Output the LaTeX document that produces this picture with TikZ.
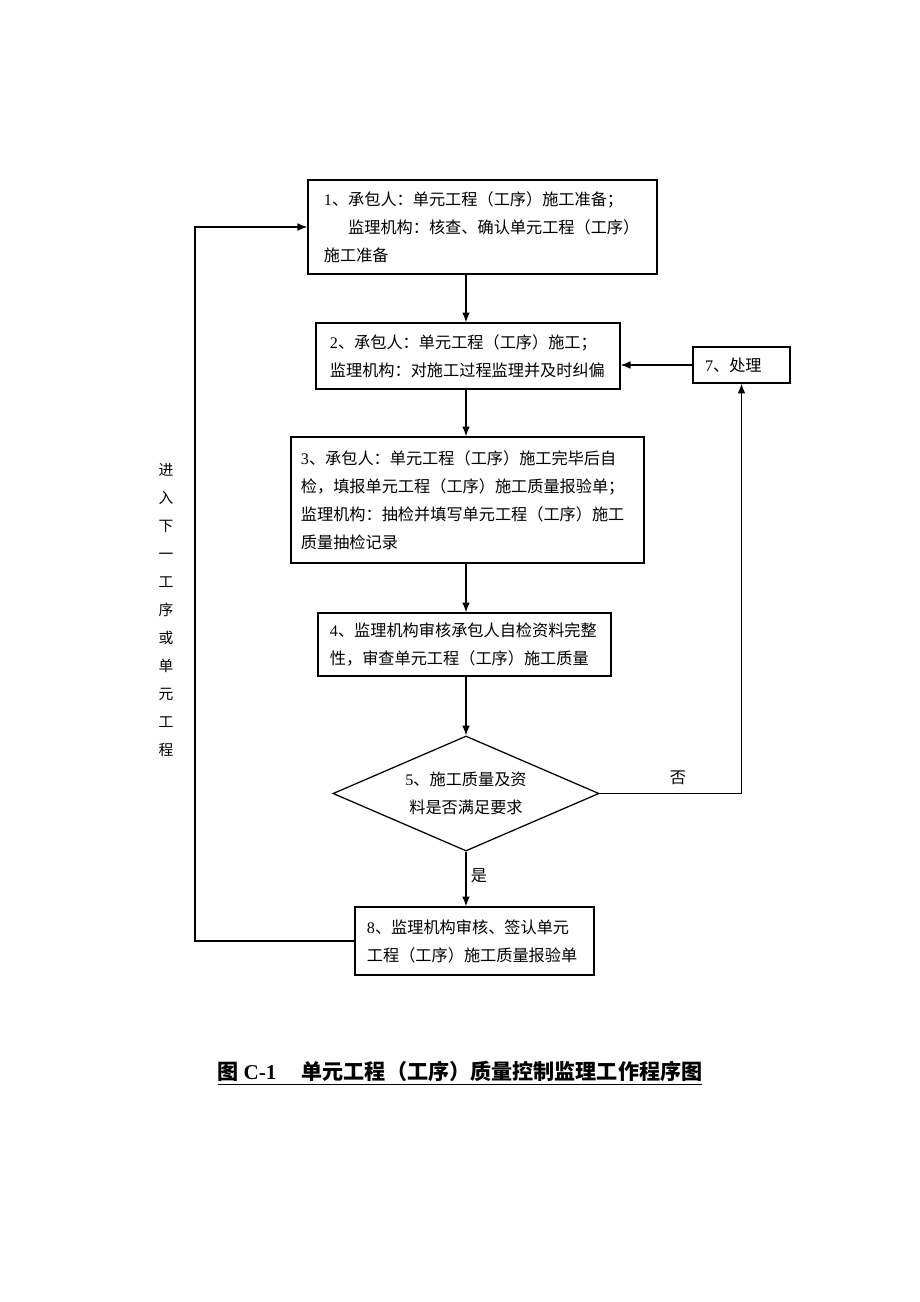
\documentclass[tikz,border=0pt]{standalone}
\usepackage{fontspec}
\setmainfont{Noto Sans CJK SC}
\newfontfamily\latin{Liberation Serif}
\usepackage{tikz}
\usetikzlibrary{shapes.geometric, arrows.meta, positioning}

\begin{document}
\begin{tikzpicture}[x=0.025cm, y=-0.025cm, >={Latex[length=7pt, width=5.5pt]},
        stepbox/.style={draw, line width=0.9pt, rectangle, align=left, inner ysep=0pt,
            font=\fontsize{11.5}{20}\selectfont},
        judge/.style={draw, line width=0.9pt, diamond, aspect=2.31, inner sep=0pt, align=center,
            minimum width=6.65cm, minimum height=2.875cm, font=\fontsize{11.5}{20}\selectfont},
        flow/.style={->, line width=0.9pt}]
        \useasboundingbox (0,0) rectangle (920,1302);
        \coordinate (axis) at (466,0);
        \coordinate (leftx) at (195,0);

        % Pasos
        \node[stepbox, minimum width=8.725cm, minimum height=2.35cm, inner xsep=0.4cm, text width=7.925cm] (paso1) at (482.5,227)
            {{\latin 1}、承包人：单元工程（工序）施工准备；\\ \hspace*{1.5em}监理机构：核查、确认单元工程（工序）\\ 施工准备};
        \node[stepbox, minimum width=7.6cm, minimum height=1.65cm, inner xsep=0.35cm, text width=6.9cm] (paso2) at (468,356)
            {{\latin 2}、承包人：单元工程（工序）施工；\\ 监理机构：对施工过程监理并及时纠偏};
        \node[stepbox, minimum width=8.825cm, minimum height=3.15cm, inner xsep=0.25cm, text width=8.325cm] (paso3) at (467.5,500)
            {{\latin 3}、承包人：单元工程（工序）施工完毕后自\\ 检，填报单元工程（工序）施工质量报验单；\\ 监理机构：抽检并填写单元工程（工序）施工\\ 质量抽检记录};
        \node[stepbox, minimum width=7.325cm, minimum height=1.575cm, inner xsep=0.3cm, text width=6.725cm] (paso4) at (464.5,644.5)
            {{\latin 4}、监理机构审核承包人自检资料完整\\ 性，审查单元工程（工序）施工质量};
        \node[judge] (paso5) at (466,793.5) {{\latin 5}、施工质量及资\\ 料是否满足要求};
        \node[stepbox, minimum width=2.425cm, minimum height=0.9cm, inner xsep=0.3cm, text width=1.825cm] (paso7) at (741.5,365)
            {{\latin 7}、处理};
        \node[stepbox, minimum width=5.975cm, minimum height=1.7cm, inner xsep=0.3cm, text width=5.375cm] (paso8) at (474.5,941)
            {{\latin 8}、监理机构审核、签认单元\\ 工程（工序）施工质量报验单};

        % Flechas principales
        \draw[flow] (paso1.south -| axis) -- (paso2.north -| axis);
        \draw[flow] (paso2.south -| axis) -- (paso3.north -| axis);
        \draw[flow] (paso3.south -| axis) -- (paso4.north -| axis);
        \draw[flow] (paso4.south -| axis) -- (paso5.north);
        \draw[flow] (paso5.south) -- (paso8.north -| axis);

        % Retornos
        \draw[flow] (paso5.east) -| (paso7.south);
        \draw[flow] (paso7.west) -- (paso7.west -| paso2.east);
        \draw[flow] (paso8.west) -- (paso8.west -| leftx) -- (paso1.west -| leftx) -- (paso1.west);

        % Etiquetas
        \node[font=\fontsize{11.5}{14}\selectfont] (no) at (678,778) {否};
        \node[font=\fontsize{11.5}{14}\selectfont] (si) at (479,876) {是};
        \node[align=center, font=\fontsize{10.5}{19.9}\selectfont] (siguiente) at (166,610)
            {进\\ 入\\ 下\\ 一\\ 工\\ 序\\ 或\\ 单\\ 元\\ 工\\ 程};

        % Titulo
        \node[font=\fontsize{15}{18}\selectfont\bfseries] (titulo) at (460,1073)
            {\underline{图 {\latin C-1}\hspace{1.2em}单元工程（工序）质量控制监理工作程序图}};
    \end{tikzpicture}
\end{document}
